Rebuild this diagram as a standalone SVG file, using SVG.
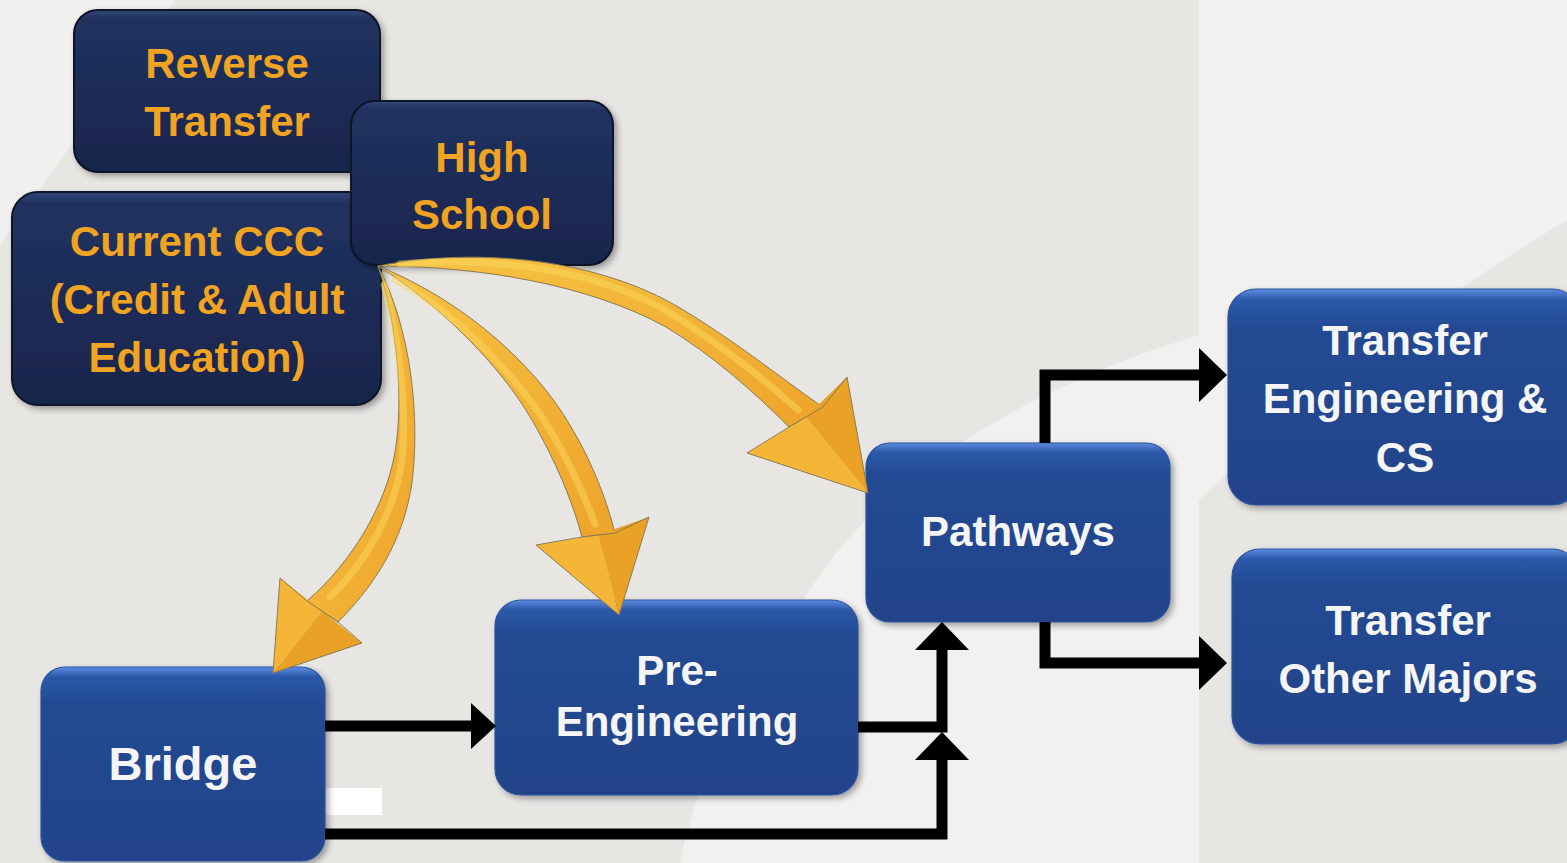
<svg xmlns="http://www.w3.org/2000/svg" width="1567" height="863" viewBox="0 0 1567 863">
<defs>
<style>
.navy{fill:url(#gNavy);stroke:#0b1226;stroke-width:2;filter:url(#sh)}
.blue{fill:url(#gBlue);stroke:#2c549e;stroke-width:1.2;filter:url(#sh)}
.tn{font-family:"Liberation Sans",Arial,sans-serif;font-weight:bold;font-size:42px;fill:#f1a322;text-anchor:middle}
.tb{font-family:"Liberation Sans",Arial,sans-serif;font-weight:bold;font-size:42px;fill:#f5f5f5;text-anchor:middle}
.shaft{fill:url(#gGold);stroke:#8b7a55;stroke-width:1}
.hl{fill:none;stroke:#fcd85e;stroke-width:7;stroke-linecap:round;opacity:.5}
.hf1{fill:#f5b637;stroke:none}
.hf2{fill:#e9a126;stroke:none}
.hout{fill:none;stroke:#8b7a55;stroke-width:1;stroke-linejoin:miter}
.conn{fill:none;stroke:#000;stroke-width:11;stroke-linejoin:miter}
</style>
<linearGradient id="gNavy" x1="0" y1="0" x2="0" y2="1">
<stop offset="0" stop-color="#34477a"/>
<stop offset="0.05" stop-color="#213260"/>
<stop offset="0.5" stop-color="#1d2c57"/>
<stop offset="1" stop-color="#18254b"/>
</linearGradient>
<linearGradient id="gBlue" x1="0" y1="0" x2="0" y2="1">
<stop offset="0" stop-color="#5d8ce0"/>
<stop offset="0.05" stop-color="#2d59aa"/>
<stop offset="0.18" stop-color="#234a92"/>
<stop offset="1" stop-color="#21438a"/>
</linearGradient>
<linearGradient id="gGold" x1="0" y1="0" x2="1" y2="1">
<stop offset="0" stop-color="#f7c443"/>
<stop offset="1" stop-color="#eda42a"/>
</linearGradient>
<filter id="sh" x="-10%" y="-10%" width="125%" height="125%">
<feDropShadow dx="3" dy="3" stdDeviation="3" flood-color="#000" flood-opacity="0.35"/>
</filter>
<marker id="ah" markerUnits="userSpaceOnUse" viewBox="0 0 28 54" markerWidth="28" markerHeight="54" refX="0" refY="27" orient="auto">
<path d="M0,0 L28,27 L0,54 Z" fill="#000"/>
</marker>
<marker id="ahs" markerUnits="userSpaceOnUse" viewBox="0 0 25 46" markerWidth="25" markerHeight="46" refX="0" refY="23" orient="auto">
<path d="M0,0 L25,23 L0,46 Z" fill="#000"/>
</marker>
</defs>

<g id="background">
<rect width="1567" height="863" fill="#e8e6e3"/>
<polygon points="0,0 175,0 0,245" fill="#f1f0ee"/>
<path d="M1199,335 C1050,380 900,460 820,575 C760,660 700,760 680,863 L1199,863 Z" fill="#f2f1ef"/>
<path d="M1199,0 L1567,0 L1567,220 C1450,290 1300,400 1199,500 Z" fill="#f2f1ef"/>
<rect x="325" y="788" width="57" height="27" fill="#ffffff"/>
</g>

<g id="node-reverse-transfer">
<rect class="navy" x="74" y="10" width="306" height="162" rx="24"/>
<text class="tn" x="227" y="78">Reverse</text>
<text class="tn" x="227" y="136">Transfer</text>
</g>
<g id="node-current-ccc">
<rect class="navy" x="12" y="192" width="369" height="213" rx="26"/>
<text class="tn" x="197" y="256">Current CCC</text>
<text class="tn" x="197" y="314">(Credit &amp; Adult</text>
<text class="tn" x="197" y="372">Education)</text>
</g>
<g id="node-high-school">
<rect class="navy" x="351" y="101" width="262" height="164" rx="24"/>
<text class="tn" x="482" y="172">High</text>
<text class="tn" x="482" y="229">School</text>
</g>
<g id="node-bridge">
<rect class="blue" x="41" y="667" width="284" height="194" rx="24"/>
<text class="tb" x="183" y="780" style="font-size:47px">Bridge</text>
</g>
<g id="node-pre-engineering">
<rect class="blue" x="495" y="600" width="363" height="195" rx="26"/>
<text class="tb" x="677" y="685">Pre-</text>
<text class="tb" x="677" y="736">Engineering</text>
</g>
<g id="node-pathways">
<rect class="blue" x="866" y="443" width="304" height="179" rx="24"/>
<text class="tb" x="1018" y="546">Pathways</text>
</g>
<g id="node-transfer-eng-cs">
<rect class="blue" x="1228" y="289" width="352" height="216" rx="28"/>
<text class="tb" x="1405" y="355">Transfer</text>
<text class="tb" x="1405" y="413">Engineering &amp;</text>
<text class="tb" x="1405" y="472">CS</text>
</g>
<g id="node-transfer-other">
<rect class="blue" x="1232" y="549" width="348" height="195" rx="28"/>
<text class="tb" x="1408" y="635">Transfer</text>
<text class="tb" x="1408" y="693">Other Majors</text>
</g>

<g id="connectors">
<path class="conn" d="M325,726 H471" marker-end="url(#ahs)"/>
<path class="conn" d="M858,727 H942 V650" marker-end="url(#ah)"/>
<path class="conn" d="M325,834 H942 V760" marker-end="url(#ah)"/>
<path class="conn" d="M1045,443 V375 H1199" marker-end="url(#ah)"/>
<path class="conn" d="M1045,622 V663 H1199" marker-end="url(#ah)"/>

<g id="arrow-to-bridge">
<path class="shaft" d="M378,266 C397,322 404,400 395,452 C386,505 352,562 307,601 L338,622 C375,585 404,540 412,482 C420,420 412,330 378,266 Z"/>
<path class="hl" d="M384,285 C400,340 407,410 402,460 C395,512 364,565 330,597"/>
<polygon class="hf1" points="280,578 322,611 273,673"/>
<polygon class="hf2" points="362,643 322,611 273,673"/>
<polygon class="hout" points="280,578 307,601 338,622 362,643 273,673"/>
</g>
<g id="arrow-to-pre-engineering">
<path class="shaft" d="M378,266 C440,305 500,365 532,420 C556,462 572,500 582,537 L615,533 C604,490 584,442 552,398 C512,345 450,295 378,266 Z"/>
<path class="hl" d="M395,280 C452,310 506,366 540,414 C566,454 583,492 595,524"/>
<polygon class="hf1" points="536,545 598,535 619,615"/>
<polygon class="hf2" points="649,517 598,535 619,615"/>
<polygon class="hout" points="536,545 582,537 615,533 649,517 619,615"/>
</g>
<g id="arrow-to-pathways">
<path class="shaft" d="M378,266 C480,246 600,260 680,308 C740,344 790,385 823,407 L789,427 C752,390 712,355 666,327 C590,285 480,266 378,266 Z"/>
<path class="hl" d="M400,264 C492,256 600,269 675,316 C734,354 774,388 798,410"/>
<polygon class="hf1" points="747,453 806,417 868,493"/>
<polygon class="hf2" points="847,377 806,417 868,493"/>
<polygon class="hout" points="747,453 789,427 823,407 847,377 868,493"/>
</g>
</g>
</svg>
